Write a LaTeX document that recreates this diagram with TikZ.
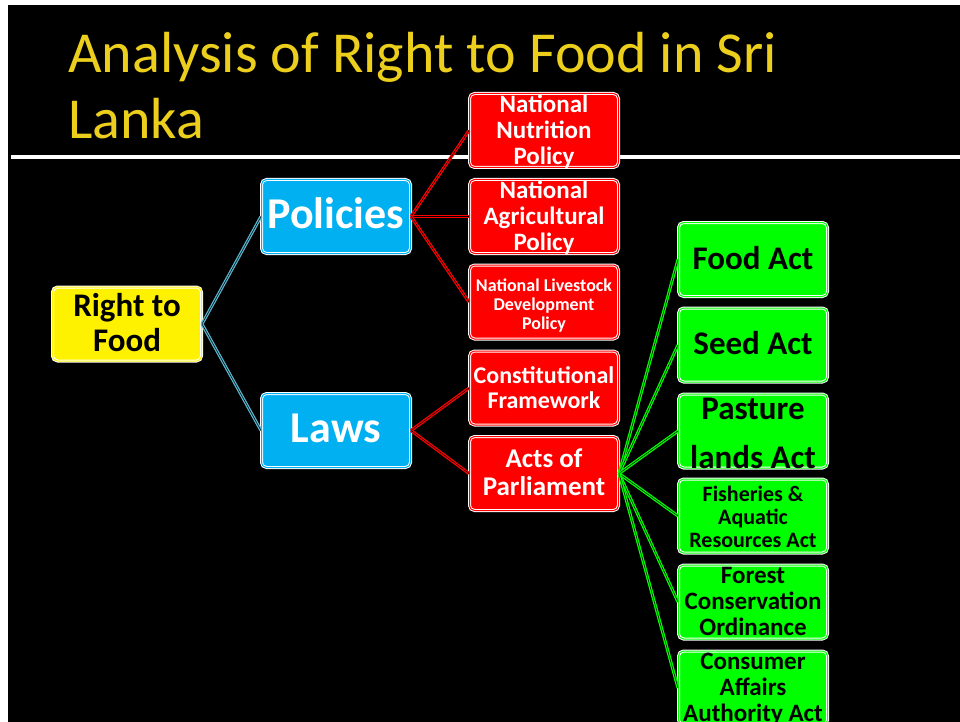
\documentclass[tikz,border=0pt]{standalone}
\usepackage{fontspec}
\setmainfont{Carlito}
\usetikzlibrary{positioning}
\definecolor{titlegold}{RGB}{236,206,28}
\definecolor{boxblue}{RGB}{0,176,240}
\definecolor{edgeblue}{RGB}{88,180,206}
\newcommand\lines[3]{\smash{\raisebox{-9pt}{\fontsize{#1}{#2}\selectfont\begin{tabular}{@{}c@{}}#3\end{tabular}}}}

\begin{document}
\begin{tikzpicture}[x=1pt,y=-1pt,
				box/.style={rectangle,rounded corners=5pt,draw=white,line width=1pt,
					double distance=1pt,minimum width=149pt,minimum height=74pt,
					inner sep=0pt,font=\bfseries},
				line/.style={line width=1.3pt,double=black,double distance=.5pt}]
			\tikzstyle{yellow node}=[box,fill=yellow,double=yellow,text=black]
			\tikzstyle{blue node}=[box,fill=boxblue,double=boxblue,text=white]
			\tikzstyle{red node}=[box,fill=red,double=red,text=white]
			\tikzstyle{green node}=[box,fill=green,double=green,text=black]
			\useasboundingbox (0,0) rectangle (960,722);
			\fill[white] (0,0) rectangle (960,722);
			\fill[black] (8,5) rectangle (960,722);
			% title and rule
			\node[anchor=base west,inner sep=0pt,text=titlegold,align=left,
				font=\fontsize{58}{66}\selectfont] (title) at (68,139)
				{Analysis of Right to Food in Sri\\Lanka};
			\draw[white,line width=4pt] (11,157.5) -- (960,157.5);
			% root and branches
			\node[yellow node] (rtf) at (127,324) {\lines{33}{35}{Right to\\Food}};
			\node[blue node] (pol) at (336,216.5) {\lines{44}{48}{Policies}};
			\node[blue node] (laws) at (336,430.5) {\lines{44}{48}{Laws}};
			% policies and laws
			\node[red node] (nutri) at (544,130.5) {\lines{25}{26}{National\\Nutrition\\Policy}};
			\node[red node] (agri) at (544,216.5) {\lines{25}{26}{National\\Agricultural\\Policy}};
			\node[red node] (live) at (544,302) {\lines{18}{19}{National Livestock\\Development\\Policy}};
			\node[red node] (const) at (544,388) {\lines{24}{25}{Constitutional\\Framework}};
			\node[red node] (acts) at (544,473.5) {\lines{27}{28}{Acts of\\Parliament}};
			% acts
			\node[green node] (food) at (753,259.5) {\lines{33}{34}{Food Act}};
			\node[green node] (seed) at (753,345) {\lines{33}{34}{Seed Act}};
			\node[green node] (pasture) at (753,431) {\lines{33}{49}{Pasture\\lands Act}};
			\node[green node] (fish) at (753,516) {\lines{22}{23}{Fisheries \&\\Aquatic\\Resources Act}};
			\node[green node] (forest) at (753,602) {\lines{25}{26}{Forest\\Conservation\\Ordinance}};
			\node[green node] (consumer) at (753,688) {\lines{25}{26}{Consumer\\Affairs\\Authority Act}};
			% connectors
			\draw[line,edgeblue] (rtf.east) -- (pol.west);
			\draw[line,edgeblue] (rtf.east) -- (laws.west);
			\draw[line,red] (pol.east) -- (nutri.west);
			\draw[line,red] (pol.east) -- (agri.west);
			\draw[line,red] (pol.east) -- (live.west);
			\draw[line,red] (laws.east) -- (const.west);
			\draw[line,red] (laws.east) -- (acts.west);
			\draw[line,green] (acts.east) -- (food.west);
			\draw[line,green] (acts.east) -- (seed.west);
			\draw[line,green] (acts.east) -- (pasture.west);
			\draw[line,green] (acts.east) -- (fish.west);
			\draw[line,green] (acts.east) -- (forest.west);
			\draw[line,green] (acts.east) -- (consumer.west);
		\end{tikzpicture}
\end{document}
